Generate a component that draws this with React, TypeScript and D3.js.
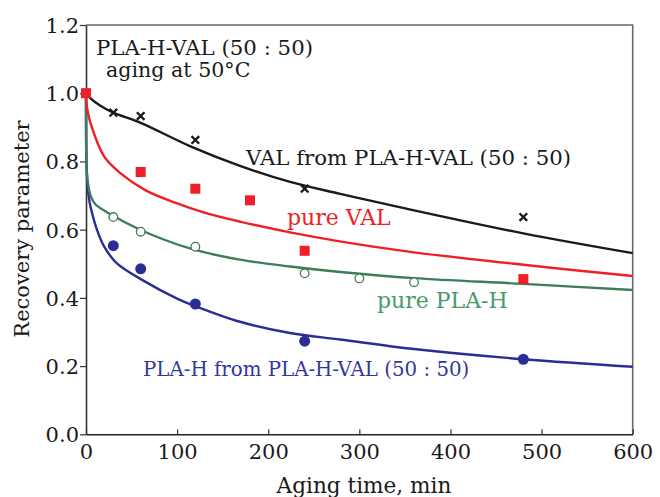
import * as d3 from "d3";
import { useEffect, useRef } from "react";

// measured points (aging time in min, recovery parameter)
const valBlendT = [0, 30, 60, 120, 240, 480];
const valBlendR = [1.0, 0.943, 0.933, 0.863, 0.72, 0.637];

const pureValT = [0, 60, 120, 180, 240, 480];
const pureValR = [1.0, 0.769, 0.72, 0.686, 0.538, 0.455];

const pureHT = [30, 60, 120, 240, 300, 360];
const pureHR = [0.637, 0.594, 0.55, 0.472, 0.457, 0.446];

const hBlendT = [30, 60, 120, 240, 480];
const hBlendR = [0.553, 0.485, 0.382, 0.273, 0.22];

// fitted curves
const valBlendFitT = [0, 5, 15, 30, 60, 114, 169, 224, 279, 344, 480, 600];
const valBlendFitR = [1.0, 0.985, 0.965, 0.943, 0.913, 0.845, 0.787, 0.74, 0.705, 0.666, 0.589, 0.531];

const pureValFitT = [0, 0.3, 1, 5, 20, 38, 65, 97, 130, 170, 224, 280, 356, 480, 600];
const pureValFitR = [1.0, 0.975, 0.96, 0.912, 0.814, 0.765, 0.716, 0.68, 0.65, 0.623, 0.592, 0.565, 0.535, 0.497, 0.464];

const pureHFitT = [0, 0.2, 0.7, 2, 5, 10, 25, 60, 114, 169, 224, 279, 360, 480, 600];
const pureHFitR = [1.0, 0.86, 0.78, 0.74, 0.70, 0.675, 0.648, 0.599, 0.545, 0.512, 0.492, 0.476, 0.458, 0.441, 0.423];

const hBlendFitT = [0, 0.2, 1, 2, 4, 7, 12, 20, 34, 62, 100, 120, 169, 224, 279, 360, 480, 600];
const hBlendFitR = [1.0, 0.84, 0.76, 0.72, 0.68, 0.645, 0.6, 0.55, 0.501, 0.452, 0.398, 0.376, 0.33, 0.297, 0.278, 0.25, 0.22, 0.198];

const xTicks = [0, 100, 200, 300, 400, 500, 600];
const yTicks = [0, 0.2, 0.4, 0.6, 0.8, 1.0, 1.2];

const W = 660;
const H = 497;
const FONT = "'DejaVu Serif', 'Liberation Serif', serif";

const BLACK = "#1a1a1a";
const RED = "#ee1f26";
const GREEN = "#3f7d59";
const BLUE = "#2a2e94";

export default function App() {
  const ref = useRef<SVGSVGElement>(null);

  useEffect(() => {
    const svg = d3.select(ref.current);
    svg.selectAll("*").remove();

    const x = d3.scaleLinear().domain([0, 600]).range([86, 632.7]);
    const y = d3.scaleLinear().domain([0, 1.2]).range([434.3, 25]);

    // frame top + right
    svg.append("path")
      .attr("d", `M${x(0)},${y(1.2)}H${x(600)}V${y(0)}`)
      .attr("fill", "none")
      .attr("stroke", "#6a6a6a")
      .attr("stroke-width", 1.6);

    // left axis
    const gy = svg.append("g").attr("transform", `translate(${x(0)},0)`)
      .call(d3.axisLeft(y).tickValues(yTicks).tickFormat(d3.format(".1f")).tickSize(6).tickSizeOuter(0));
    gy.select(".domain").attr("stroke", "#333").attr("stroke-width", 1.6);
    gy.selectAll(".tick line").attr("stroke", "#333").attr("stroke-width", 1.2);
    gy.selectAll(".tick text")
      .attr("font-family", FONT).attr("font-size", 21).attr("fill", BLACK)
      .attr("x", -7).attr("dy", "0.36em");

    // bottom axis, ticks inward
    const gx = svg.append("g").attr("transform", `translate(0,${y(0)})`)
      .call(d3.axisBottom(x).tickValues(xTicks).tickSize(-5).tickSizeOuter(0));
    gx.select(".domain").attr("stroke", "#222").attr("stroke-width", 1.6);
    gx.selectAll(".tick line").attr("stroke", "#333").attr("stroke-width", 1.2);
    gx.selectAll(".tick text")
      .attr("font-family", FONT).attr("font-size", 21).attr("fill", BLACK)
      .attr("y", 10).attr("dy", "0.71em");

    // axis titles
    svg.append("text")
      .attr("x", 364).attr("y", 493)
      .attr("text-anchor", "middle")
      .attr("font-family", FONT).attr("font-size", 21.6).attr("fill", BLACK)
      .text("Aging time, min");
    svg.append("text")
      .attr("transform", `translate(29,229) rotate(-90)`)
      .attr("text-anchor", "middle")
      .attr("font-family", FONT).attr("font-size", 21).attr("fill", BLACK)
      .text("Recovery parameter");

    const line = d3.line<[number, number]>()
      .x(d => x(d[0]))
      .y(d => y(d[1]))
      .curve(d3.curveCatmullRom.alpha(0.5));

    const fits: [number[], number[], string][] = [
      [hBlendFitT, hBlendFitR, BLUE],
      [pureHFitT, pureHFitR, GREEN],
      [pureValFitT, pureValFitR, RED],
      [valBlendFitT, valBlendFitR, BLACK],
    ];
    fits.forEach(([ts, rs, c]) => {
      svg.append("path")
        .datum(ts.map((t, i) => [t, rs[i]] as [number, number]))
        .attr("d", line)
        .attr("fill", "none")
        .attr("stroke", c)
        .attr("stroke-width", 2.4);
    });

    // blue filled circles
    svg.append("g").selectAll("circle")
      .data(hBlendT.map((t, i) => [t, hBlendR[i]]))
      .join("circle")
      .attr("cx", d => x(d[0])).attr("cy", d => y(d[1]))
      .attr("r", 5.5).attr("fill", BLUE);

    // green open circles
    svg.append("g").selectAll("circle")
      .data(pureHT.map((t, i) => [t, pureHR[i]]))
      .join("circle")
      .attr("cx", d => x(d[0])).attr("cy", d => y(d[1]))
      .attr("r", 4.3).attr("fill", "white").attr("stroke", GREEN).attr("stroke-width", 1.3);

    // black crosses
    svg.append("g").selectAll("path")
      .data(valBlendT.map((t, i) => [t, valBlendR[i]]))
      .join("path")
      .attr("d", d => {
        const cx = x(d[0]), cy = y(d[1]), s = 3.8;
        return `M${cx - s},${cy - s}L${cx + s},${cy + s}M${cx - s},${cy + s}L${cx + s},${cy - s}`;
      })
      .attr("stroke", BLACK).attr("stroke-width", 2.3);

    // red squares
    svg.append("g").selectAll("rect")
      .data(pureValT.map((t, i) => [t, pureValR[i]]))
      .join("rect")
      .attr("x", d => x(d[0]) - 5).attr("y", d => y(d[1]) - 5)
      .attr("width", 10).attr("height", 10).attr("fill", RED);

    // annotations
    const label = (tx: number, ty: number, s: string, c: string, size = 21) =>
      svg.append("text")
        .attr("x", tx).attr("y", ty)
        .attr("font-family", FONT).attr("font-size", size).attr("fill", c)
        .text(s);

    label(96, 55, "PLA-H-VAL (50 : 50)", BLACK, 21.3);
    label(106, 77, "aging at 50°C", BLACK, 20.6);
    label(246, 165, "VAL from PLA-H-VAL (50 : 50)", BLACK, 21.3);
    label(287, 225, "pure VAL", RED, 22);
    label(377, 308, "pure PLA-H", "#4b9a6c", 22);
    label(143, 376, "PLA-H from PLA-H-VAL (50 : 50)", "#33379c", 19.8);
  }, []);

  return (
    <div style={{ position: "absolute", left: 0, top: 0 }}>
      <svg ref={ref} width={W} height={H} style={{ display: "block", background: "white" }} />
    </div>
  );
}
